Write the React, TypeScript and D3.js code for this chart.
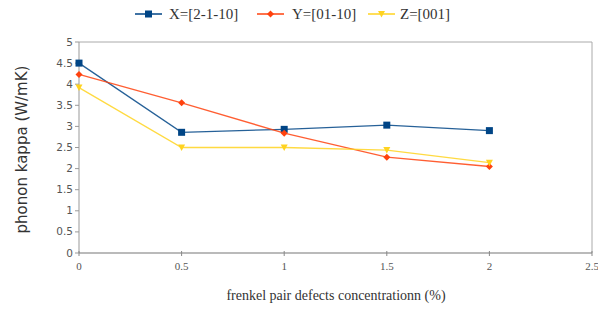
import React from "react";
import * as d3 from "d3";

const xValues = [0, 0.5, 1, 1.5, 2];
const seriesX = [4.5, 2.86, 2.93, 3.03, 2.9];
const seriesY = [4.23, 3.56, 2.84, 2.27, 2.05];
const seriesZ = [3.92, 2.5, 2.5, 2.44, 2.14];
const seriesNames = ["X=[2-1-10]", "Y=[01-10]", "Z=[001]"];
const seriesColors = ["#004586", "#ff420e", "#ffd320"];
const xTicks = [0, 0.5, 1, 1.5, 2, 2.5];
const yTicks = [0, 0.5, 1, 1.5, 2, 2.5, 3, 3.5, 4, 4.5, 5];

const W = 598;
const H = 321;
const left = 79;
const right = 592;
const top = 42;
const bottom = 253;

function Marker({ kind, x, y, color }: { kind: number; x: number; y: number; color: string }) {
  if (kind === 0) return <rect x={x - 3.5} y={y - 3.5} width={7} height={7} fill={color} />;
  if (kind === 1)
    return <path d={`M${x},${y - 3.5}L${x + 3.5},${y}L${x},${y + 3.5}L${x - 3.5},${y}Z`} fill={color} />;
  return <path d={`M${x - 3.5},${y - 3}L${x + 3.5},${y - 3}L${x},${y + 3.5}Z`} fill={color} />;
}

export default function App() {
  const x = d3.scaleLinear().domain([0, 2.5]).range([left, right]);
  const y = d3.scaleLinear().domain([0, 5]).range([bottom, top]);
  const all = [seriesX, seriesY, seriesZ];
  const line = d3
    .line<number>()
    .x((_, i) => x(xValues[i]))
    .y((d) => y(d));
  const font = "'Liberation Serif', 'Times New Roman', serif";
  const legendItems = [
    { lx: 135, tx: 169 },
    { lx: 257, tx: 292 },
    { lx: 368, tx: 400 },
  ];
  return (
    <svg width={W} height={H} style={{ position: "absolute", left: 0, top: 0, background: "#fff" }} fontFamily={font}>
      {/* legend */}
      {legendItems.map((it, i) => (
        <g key={i}>
          <line x1={it.lx} x2={it.lx + 27} y1={14} y2={14} stroke={seriesColors[i]} strokeWidth={1.5} />
          <Marker kind={i} x={it.lx + 13.5} y={14} color={seriesColors[i]} />
          <text x={it.tx} y={18.5} fontSize={15} fill="#333">
            {seriesNames[i]}
          </text>
        </g>
      ))}
      {/* frame */}
      <line x1={left} x2={right} y1={top} y2={top} stroke="#aaa" strokeWidth={1} />
      <line x1={right} x2={right} y1={top} y2={bottom} stroke="#aaa" strokeWidth={1} />
      <line x1={left} x2={left} y1={top} y2={bottom} stroke="#999" strokeWidth={1} />
      <line x1={left} x2={right} y1={bottom} y2={bottom} stroke="#777" strokeWidth={1.2} />
      {/* y ticks */}
      {yTicks.map((t) => (
        <g key={t}>
          <line x1={left - 4} x2={left} y1={y(t)} y2={y(t)} stroke="#999" />
          <text x={left - 6} y={y(t) + 3.5} fontSize={10.5} textAnchor="end" fill="#555" fontFamily="'DejaVu Sans', sans-serif">
            {t}
          </text>
        </g>
      ))}
      {/* x ticks */}
      {xTicks.map((t) => (
        <g key={t}>
          <line x1={x(t)} x2={x(t)} y1={bottom - 2} y2={bottom + 3} stroke="#888" />
          <text x={x(t)} y={bottom + 17} fontSize={11} textAnchor="middle" fill="#555">
            {t}
          </text>
        </g>
      ))}
      {/* series */}
      {all.map((s, i) => (
        <g key={i}>
          <path d={line(s) || ""} fill="none" stroke={seriesColors[i]} strokeWidth={1.3} opacity={0.85} />
          {s.map((v, j) => (
            <Marker key={j} kind={i} x={x(xValues[j])} y={y(v)} color={seriesColors[i]} />
          ))}
        </g>
      ))}
      {/* axis titles */}
      <text
        transform={`translate(27,${(top + bottom) / 2 + 2}) rotate(-90)`}
        textAnchor="middle"
        fontSize={15}
        fill="#333"
        fontFamily="'DejaVu Sans', sans-serif"
      >
        phonon kappa (W/mK)
      </text>
      <text x={336} y={300} textAnchor="middle" fontSize={14} fill="#333">
        frenkel pair defects concentrationn (%)
      </text>
    </svg>
  );
}
